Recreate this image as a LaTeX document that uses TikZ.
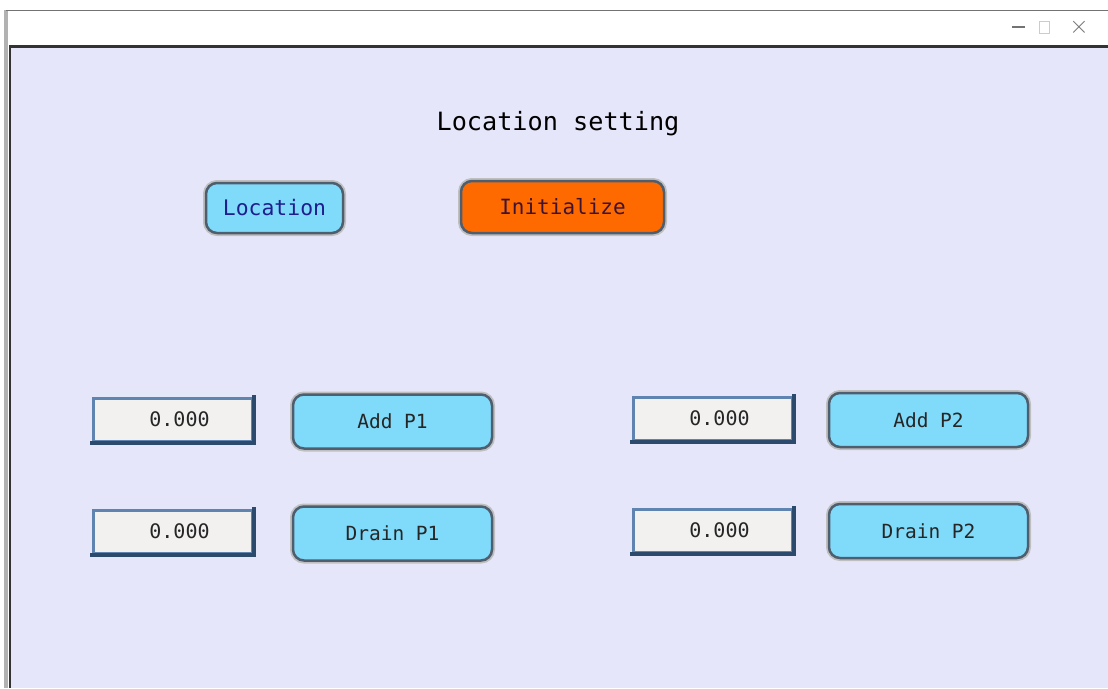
\documentclass[tikz,border=0pt]{standalone}
\usepackage{fontspec}
\setmonofont{DejaVu Sans Mono}
\usepackage{tikz}
\usetikzlibrary{positioning, calc}
\definecolor{panelbg}{RGB}{230,230,250}
\definecolor{btnblue}{RGB}{128,218,250}
\definecolor{btnedge}{RGB}{78,94,110}
\definecolor{btnorange}{RGB}{255,106,0}
\definecolor{boxfill}{RGB}{242,241,240}
\definecolor{boxlight}{RGB}{96,132,176}
\definecolor{boxdark}{RGB}{44,74,108}
\definecolor{navytext}{RGB}{30,30,140}

\begin{document}
\begin{tikzpicture}[
  x=1pt, y=-1pt,
  btn/.style={rounded corners=11pt, draw=btnedge, line width=2.5pt, fill=btnblue,
    preaction={draw=black!25, line width=6pt},
    inner sep=0pt, font=\ttfamily\fontsize{19.5}{20}\selectfont, text=black!85},
  valbox/.style={draw=boxlight, line width=3pt, fill=boxfill, inner sep=0pt,
    minimum width=159pt, minimum height=43pt, font=\ttfamily\fontsize{20}{22}\selectfont, text=black!85},
  rowbtn/.style={btn, minimum width=199pt, minimum height=54pt},
  winctl/.style={text=black!55, font=\fontsize{30}{30}\selectfont}
  ]
  \useasboundingbox (0,0) rectangle (1108,688);
  % window frame
  \fill[white] (0,0) rectangle (1108,688);
  \fill[black!30] (4,10) rectangle (8,688);
  \draw[black!55, line width=1pt] (6,10) -- (1108,10);
  \fill[black!80] (9,45) rectangle (1108,48);
  \fill[black!80] (9,45) rectangle (11,688);
  \fill[panelbg] (11,48) rectangle (1108,688);
  \node[winctl, fill=black!55, minimum width=13pt, minimum height=1.2pt, inner sep=0pt] (mini) at (1018,27) {};
  \node[winctl, draw=black!20, line width=0.8pt, minimum width=10pt, minimum height=12pt, inner sep=0pt] (maxi) at (1044,27) {};
  \node[winctl, inner sep=0pt] (close) at (1079,27) {$\times$};
  % title
  \node[font=\ttfamily\fontsize{25.2}{26}\selectfont, text=black] (title) at (558,124) {Location setting};
  % top buttons
  \node[btn, minimum width=137pt, minimum height=50pt, text=navytext,
    font=\ttfamily\fontsize{21.4}{22}\selectfont] (loc) at (274.5,208) {Location};
  \node[btn, fill=btnorange, minimum width=203pt, minimum height=52pt, text={rgb,255:red,60;green,20;blue,50},
    font=\ttfamily\fontsize{21}{22}\selectfont] (init) at (562.5,207) {Initialize};
  % P1 column
  \node[valbox] (v1) at (172.5,419.5) {\hspace*{14pt}0.000};
  \node[rowbtn] (add1) at (392.5,421.5) {Add P1};
  \node[valbox] (v2) at (172.5,531.5) {\hspace*{14pt}0.000};
  \node[rowbtn] (drain1) at (392.5,533.5) {Drain P1};
  % P2 column
  \node[valbox] (v3) at (712.5,418.5) {\hspace*{14pt}0.000};
  \node[rowbtn] (add2) at (928.5,420) {Add P2};
  \node[valbox] (v4) at (712.5,530.5) {\hspace*{14pt}0.000};
  \node[rowbtn] (drain2) at (928.5,531) {Drain P2};
  % darker lower and right edges of the value boxes
  \foreach \b in {v1,v2,v3,v4}{
    \draw[boxdark, line width=4pt] ($(\b.south west)+(-1.5,0.5)$) -- ($(\b.south east)+(0.5,0.5)$) -- ($(\b.north east)+(0.5,-1.5)$);
  }
\end{tikzpicture}
\end{document}
